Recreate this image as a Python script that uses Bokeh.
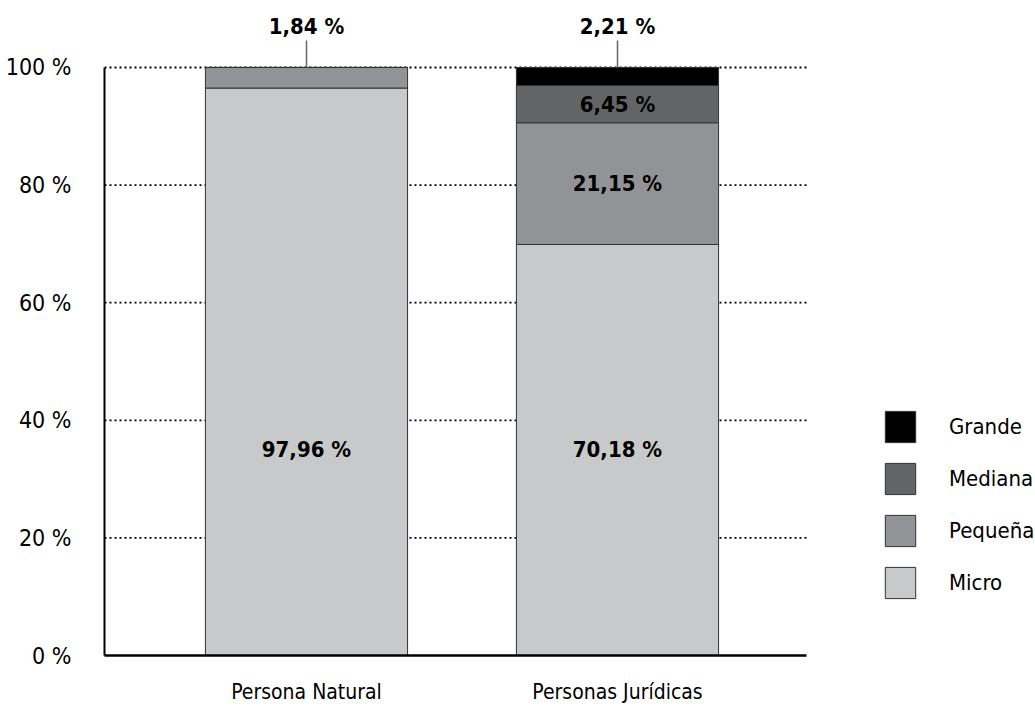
from bokeh.plotting import figure
from bokeh.models import ColumnDataSource, Range1d, FixedTicker, Legend, LegendItem
from bokeh.core.properties import value
from bokeh.embed import file_html
from bokeh.resources import INLINE

# ---------------- data ----------------
categories = ["Persona Natural", "Personas Jurídicas"]
segments = ["Micro", "Pequeña", "Mediana", "Grande"]
micro = [96.5, 69.9]
pequena = [3.5, 20.7]
mediana = [0.0, 6.35]
grande = [0.0, 3.05]
micro_labels = ["97,96 %", "70,18 %"]
pequena_labels = ["", "21,15 %"]
mediana_labels = ["", "6,45 %"]
top_labels = ["1,84 %", "2,21 %"]
y_ticks = [0, 20, 40, 60, 80, 100]
y_tick_labels = ["0 %", "20 %", "40 %", "60 %", "80 %", "100 %"]
micro_label_y = 35

# ---------------- style ----------------
colors = ["#c8c9cb", "#929396", "#636466", "#000000"]
FONT = "DejaVu Sans Condensed"
X_START, X_AXIS_END, X_END = -0.6495, 1.6077, 2.3441

xs = list(range(len(categories)))
totals = [a + b + c + d for a, b, c, d in zip(micro, pequena, mediana, grande)]

src = ColumnDataSource(dict(x=xs, Micro=micro, Pequeña=pequena, Mediana=mediana, Grande=grande))

p = figure(width=1035, height=706, output_backend="svg", toolbar_location=None,
           x_range=Range1d(X_START, X_END), y_range=Range1d(0, 109.69),
           min_border_left=104, min_border_right=0, min_border_top=10, min_border_bottom=51)
p.outline_line_color = None
p.background_fill_color = "white"
p.border_fill_color = "white"

# dotted grid lines (drawn as glyphs so they stop at the axis end)
p.xgrid.visible = False
p.ygrid.visible = False
grid_y = [t for t in y_ticks if t > 0]
p.segment(x0=[X_START] * len(grid_y), y0=grid_y, x1=[X_AXIS_END] * len(grid_y), y1=grid_y,
          line_color="black", line_width=1.8, line_dash="2 3")

renderers = p.vbar_stack(segments, x="x", width=0.65, source=src, color=colors,
                         line_color="#333333", line_width=1)

# y axis
p.yaxis.ticker = FixedTicker(ticks=y_ticks)
p.yaxis.major_label_overrides = {t: l for t, l in zip(y_ticks, y_tick_labels)}
p.yaxis.bounds = (0, 100)
p.yaxis.axis_line_width = 2
p.yaxis.axis_line_color = "black"
p.yaxis.major_tick_line_color = None
p.yaxis.minor_tick_line_color = None
p.yaxis.major_tick_out = 0
p.yaxis.major_tick_in = 0
p.yaxis.minor_tick_out = 0
p.yaxis.major_label_standoff = 33
p.yaxis.major_label_text_font = FONT
p.yaxis.major_label_text_font_size = "23px"
p.yaxis.major_label_text_color = "black"

# x axis
p.xaxis.ticker = FixedTicker(ticks=xs)
p.xaxis.major_label_overrides = {x: c for x, c in zip(xs, categories)}
p.xaxis.bounds = (X_START, X_AXIS_END)
p.xaxis.axis_line_width = 2.5
p.xaxis.axis_line_color = "black"
p.xaxis.major_tick_line_color = None
p.xaxis.minor_tick_line_color = None
p.xaxis.major_tick_out = 0
p.xaxis.major_tick_in = 0
p.xaxis.minor_tick_out = 0
p.xaxis.major_label_standoff = 24
p.xaxis.major_label_text_font = FONT
p.xaxis.major_label_text_font_size = "21px"
p.xaxis.major_label_text_color = "black"

# value labels
lab_x, lab_y, lab_t = [], [], []
for i, x in enumerate(xs):
    lab_x.append(x); lab_y.append(micro_label_y); lab_t.append(micro_labels[i])
    if pequena_labels[i]:
        lab_x.append(x); lab_y.append(micro[i] + pequena[i] / 2); lab_t.append(pequena_labels[i])
    if mediana_labels[i]:
        lab_x.append(x); lab_y.append(micro[i] + pequena[i] + mediana[i] / 2); lab_t.append(mediana_labels[i])
    lab_x.append(x); lab_y.append(totals[i] + 7.0); lab_t.append(top_labels[i])

p.text(x=lab_x, y=lab_y, text=lab_t, text_align="center", text_baseline="middle",
       text_font=value(FONT), text_font_style="bold", text_font_size="22px", text_color="black")

# leader lines for top labels
p.segment(x0=xs, y0=totals, x1=xs, y1=[t + 4.6 for t in totals], line_color="#666666", line_width=1.5)

# legend
items = [LegendItem(label=seg, renderers=[r]) for seg, r in zip(segments, renderers)][::-1]
legend = Legend(items=items, location=(777, 53), orientation="vertical",
                glyph_width=38, glyph_height=39, label_height=39, spacing=13,
                label_standoff=30, padding=0, margin=0,
                border_line_color=None, background_fill_alpha=0,
                label_text_font=FONT, label_text_font_size="22px", label_text_color="black")
p.add_layout(legend, "center")

open("out.html", "w").write(file_html(p, INLINE))
